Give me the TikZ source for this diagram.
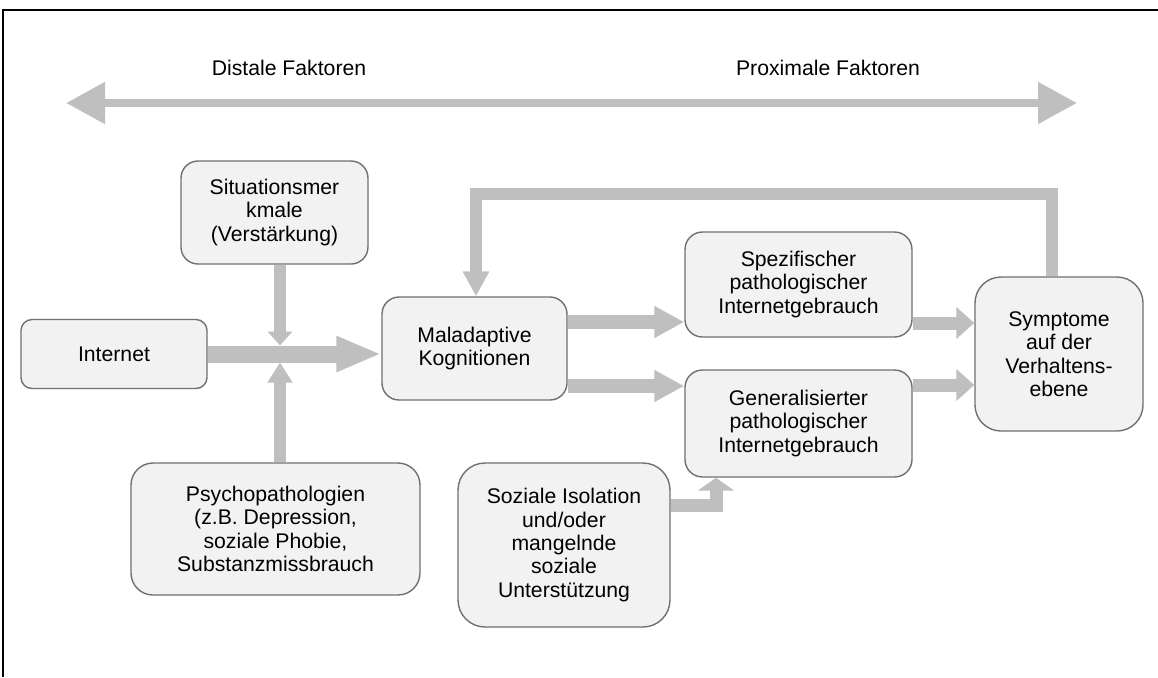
\documentclass[tikz,border=0pt]{standalone}
\usepackage{xcolor}
\usepackage{fontspec}
\setmainfont{Liberation Sans}
\usepackage{tikz}
\usetikzlibrary{positioning,arrows.meta}

\definecolor{boxfill}{HTML}{F2F2F2}
\definecolor{boxline}{HTML}{707070}
\definecolor{flowgray}{HTML}{BFBFBF}

\begin{document}
\begin{tikzpicture}[x=0.5pt,y=-0.5pt,
    font=\fontsize{10.6}{11.7}\selectfont,
    box/.style={rectangle, draw=boxline, fill=boxfill, line width=0.7pt, align=center, text centered, inner sep=2pt},
    flow/.style={draw=flowgray, line join=miter}]

    \useasboundingbox (0,0) rectangle (1158,677);
    \draw [line width=0.75pt] (3,677) -- (3,10) -- (1158,10);

    \node (distal) at (289,68) {Distale Faktoren};
    \node (proximal) at (828,68) {Proximale Faktoren};
    \coordinate (dl) at (66,103);
    \coordinate (dr) at (1077,103);

    \node (sit) [box, minimum width=93.5pt, minimum height=51.5pt, rounded corners=8.5pt] at (274.5,212.5) {Situationsmer\\kmale\\(Verstärkung)};
    \node (inet) [box, minimum width=93pt, minimum height=34.5pt, rounded corners=5.5pt] at (114,354) {Internet};
    \node (mal) [box, minimum width=92.5pt, minimum height=51.5pt, rounded corners=8.5pt] at (474.5,348.5) {Maladaptive\\Kognitionen};
    \node (spez) [box, minimum width=113.5pt, minimum height=52.5pt, rounded corners=8.75pt] at (798.5,284.5) {Spezifischer\\pathologischer\\Internetgebrauch};
    \node (gen) [box, minimum width=113.5pt, minimum height=53.5pt, rounded corners=8.75pt] at (798.5,423.5) {Generalisierter\\pathologischer\\Internetgebrauch};
    \node (sym) [box, minimum width=84pt, minimum height=77pt, rounded corners=13pt] at (1059,354) {Symptome\\auf der\\Verhaltens-\\ebene};
    \node (psy) [box, minimum width=144.5pt, minimum height=66pt, rounded corners=11pt] at (275.5,529) {Psychopathologien\\(z.B. Depression,\\soziale Phobie,\\Substanzmissbrauch};
    \node (soz) [box, minimum width=106pt, minimum height=82pt, rounded corners=13.5pt] at (564,545) {Soziale Isolation\\und/oder\\mangelnde\\soziale\\Unterstützung};

    \coordinate (cross) at (280,354);
    \coordinate (bend) at (716,505);
    \coordinate (fbl) at (476,194);
    \coordinate (fbr) at (1052,194);

    \draw [flow, line width=4pt, {Triangle[length=19.5pt,width=20pt]}-{Triangle[length=19.5pt,width=20pt]}] (dl) -- (dr);

    \draw [flow, line width=6.25pt, -{Triangle[length=7pt,width=12pt]}, shorten >=4.25pt] (cross |- sit.south) -- (cross);
    \draw [flow, line width=6.25pt, -{Triangle[length=10pt,width=12pt]}, shorten >=4.25pt] (cross |- psy.north) -- (cross);
    \draw [flow, line width=8.5pt, -{Triangle[length=22.5pt,width=16.5pt]}] (inet.east |- cross) -- (mal.west |- cross);

    \draw [flow, line width=7pt, -{Triangle[length=15pt,width=15pt]}] ([yshift=13.25pt]mal.east) -- ([yshift=13.25pt]mal.east -| spez.west);
    \draw [flow, line width=7pt, -{Triangle[length=15pt,width=15pt]}] ([yshift=-18.75pt]mal.east) -- ([yshift=-18.75pt]mal.east -| gen.west);
    \draw [flow, line width=6.5pt, -{Triangle[length=9pt,width=15.5pt]}] ([yshift=-19.25pt]spez.east) -- ([yshift=-19.25pt]spez.east -| sym.west);
    \draw [flow, line width=6.5pt, -{Triangle[length=9pt,width=15.5pt]}] ([yshift=19.25pt]gen.east) -- ([yshift=19.25pt]gen.east -| sym.west);

    \draw [flow, line width=6.5pt, -{Triangle[length=6.5pt,width=18pt]}] (soz.east |- bend) -- (bend) -- (bend |- gen.south);
    \draw [flow, line width=6pt, -{Triangle[length=12.5pt,width=12.5pt]}] (fbr |- sym.north) -- (fbr) -- (fbl) -- (fbl |- mal.north);
\end{tikzpicture}
\end{document}
